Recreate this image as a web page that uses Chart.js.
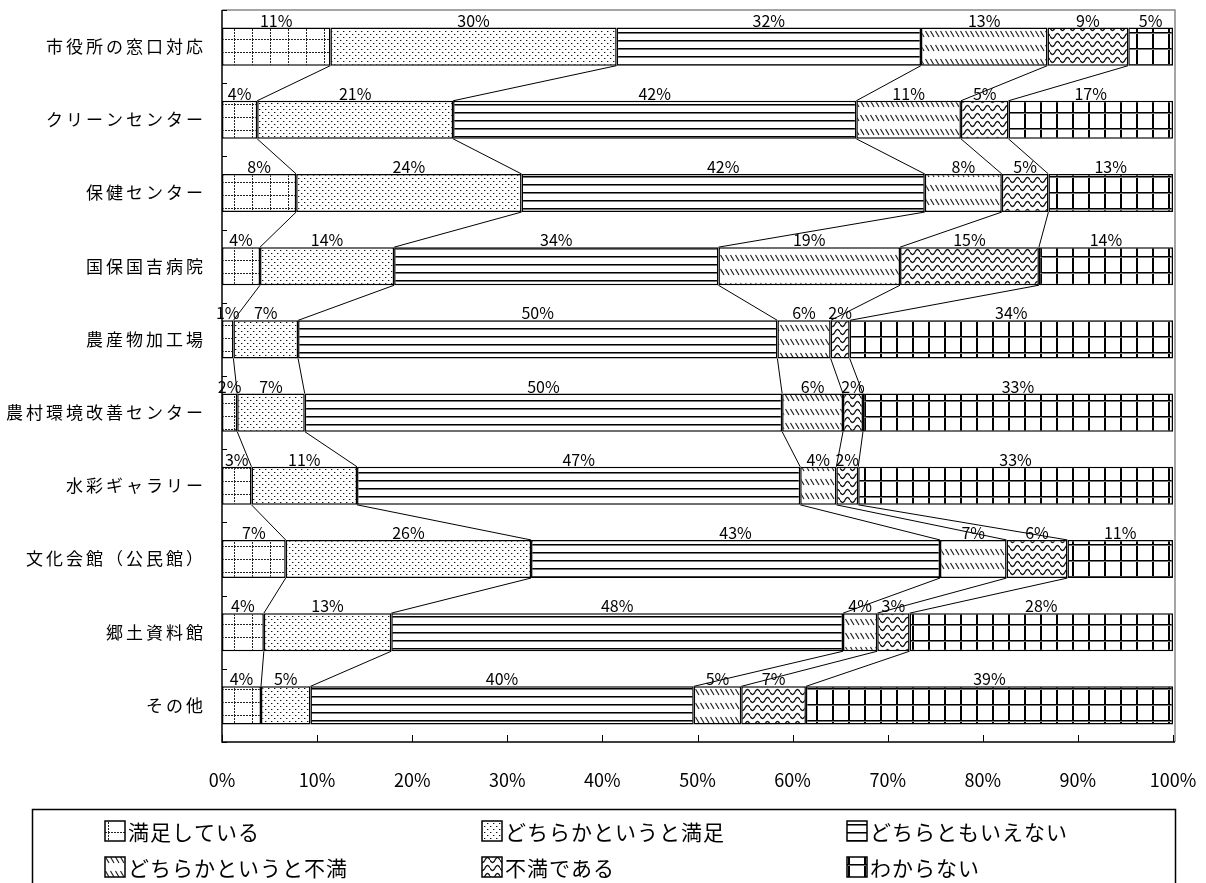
<!DOCTYPE html>
<html lang="ja">
<head>
<meta charset="UTF-8">
<script src="https://cdn.jsdelivr.net/npm/chart.js"></script>
<title>施設の満足度</title>
<style>
  html, body { margin: 0; padding: 0; background: #fff; }
  canvas { display: block; }
</style>
</head>
<body>
<canvas id="grafico" width="1206" height="883"></canvas>
<script>
// categories (top to bottom)
const categorias = ['市役所の窓口対応', 'クリーンセンター', '保健センター', '国保国吉病院', '農産物加工場',
  '農村環境改善センター', '水彩ギャラリー', '文化会館（公民館）', '郷土資料館', 'その他'];

// series (percent)
const satisfecho      = [11.4, 3.7, 7.8, 4.0, 1.2, 1.6, 3.1, 6.7, 4.4, 4.1];
const algoSatisfecho  = [30.1, 20.6, 23.7, 14.1, 6.8, 7.1, 11.1, 25.8, 13.4, 5.2];
const neutral         = [32.0, 42.4, 42.4, 34.1, 50.4, 50.2, 46.6, 43.0, 47.5, 40.3];
const algoInsatisfecho = [13.3, 11.0, 8.1, 19.1, 5.6, 6.4, 3.8, 7.0, 3.6, 5.0];
const insatisfecho    = [8.5, 5.0, 4.9, 14.6, 2.0, 2.1, 2.3, 6.4, 3.4, 6.8];
const noSabe          = [4.7, 17.3, 13.1, 14.1, 34.0, 32.6, 33.1, 11.1, 27.7, 38.6];

const nombresSeries = ['満足している', 'どちらかというと満足', 'どちらともいえない',
  'どちらかというと不満', '不満である', 'わからない'];
const ticksX = [0, 10, 20, 30, 40, 50, 60, 70, 80, 90, 100];

const FUENTE = "'Noto Sans CJK JP', 'Noto Sans', sans-serif";
const canvas = document.getElementById('grafico');
const ctx = canvas.getContext('2d');

function patron(w, h, dibujar) {
  const c = document.createElement('canvas');
  c.width = w; c.height = h;
  const g = c.getContext('2d');
  g.fillStyle = '#fff';
  g.fillRect(0, 0, w, h);
  dibujar(g, w, h);
  return ctx.createPattern(c, 'repeat');
}

// dotted grid
const pSatisfecho = patron(18, 13, (g) => {
  g.fillStyle = '#222';
  for (let i = 0; i < 13; i += 3) g.fillRect(0, i, 1, 2);
  for (let i = 0; i < 18; i += 3) g.fillRect(i, 0, 2, 1);
});
// dots
const pAlgoSatisfecho = patron(6, 6, (g) => {
  g.fillStyle = '#111';
  g.fillRect(1, 1, 1, 1);
  g.fillRect(4, 4, 1, 1);
  g.fillStyle = '#aaa';
  g.fillRect(2, 1, 1, 1);
  g.fillRect(5, 4, 1, 1);
});
// horizontal lines
const pNeutral = patron(4, 8, (g) => {
  g.fillStyle = '#000';
  g.fillRect(0, 0, 4, 1);
  g.fillStyle = '#777';
  g.fillRect(0, 1, 4, 1);
});
// short diagonal dashes
const pAlgoInsatisfecho = patron(5, 14, (g) => {
  g.strokeStyle = '#222';
  g.lineWidth = 1.2;
  g.beginPath();
  g.moveTo(0.5, 3);
  g.lineTo(4, 9);
  g.stroke();
});
// waves
const pInsatisfecho = patron(10, 8, (g) => {
  g.strokeStyle = '#111';
  g.lineWidth = 1.3;
  g.beginPath();
  for (let x = 0; x <= 10; x += 0.5) {
    const y = 4 + 2.6 * Math.sin(2 * Math.PI * x / 10);
    if (x === 0) g.moveTo(x, y); else g.lineTo(x, y);
  }
  g.stroke();
});
// big grid
const pNoSabe = patron(16, 16, (g) => {
  g.fillStyle = '#000';
  g.fillRect(0, 0, 2, 16);
  g.fillRect(0, 0, 16, 1);
  g.fillStyle = '#777';
  g.fillRect(0, 1, 16, 1);
});

const patrones = [pSatisfecho, pAlgoSatisfecho, pNeutral, pAlgoInsatisfecho, pInsatisfecho, pNoSabe];
const valores = [satisfecho, algoSatisfecho, neutral, algoInsatisfecho, insatisfecho, noSabe];

// connecting lines, labels, axes, legend
const extras = {
  id: 'extras',
  beforeDraw(chart) {
    const c = chart.ctx;
    c.save();
    c.fillStyle = '#fff';
    c.fillRect(0, 0, chart.width, chart.height);
    c.restore();
  },
  afterDatasetsDraw(chart) {
    const c = chart.ctx;
    const n = chart.data.labels.length;
    c.save();
    // series lines
    c.strokeStyle = '#000';
    c.lineWidth = 1;
    for (let d = 0; d < chart.data.datasets.length - 1; d++) {
      const barras = chart.getDatasetMeta(d).data;
      for (let i = 0; i < n - 1; i++) {
        const a = barras[i], b = barras[i + 1];
        c.beginPath();
        c.moveTo(a.x, a.y + a.height / 2);
        c.lineTo(b.x, b.y - b.height / 2);
        c.stroke();
      }
    }
    // value labels
    c.fillStyle = '#000';
    c.font = '16px ' + FUENTE;
    c.textAlign = 'center';
    c.textBaseline = 'alphabetic';
    chart.data.datasets.forEach((ds, d) => {
      chart.getDatasetMeta(d).data.forEach((bar, i) => {
        const cx = (bar.x + bar.base) / 2;
        c.fillText(Math.round(ds.data[i]) + '%', cx, bar.y - bar.height / 2 - 1);
      });
    });
    c.restore();
  },
  afterDraw(chart) {
    const c = chart.ctx;
    const a = chart.chartArea;
    const xs = chart.scales.x, ys = chart.scales.y;
    c.save();
    // category names
    c.fillStyle = '#000';
    c.font = '17px ' + FUENTE;
    c.letterSpacing = '3px';
    c.textAlign = 'right';
    c.textBaseline = 'middle';
    chart.data.labels.forEach((lab, i) => {
      c.fillText(lab, a.left - 16, ys.getPixelForValue(i));
    });
    c.letterSpacing = '0px';
    // plot frame (grey)
    c.strokeStyle = '#888';
    c.lineWidth = 1.5;
    c.beginPath();
    c.moveTo(a.left, a.top);
    c.lineTo(a.right + 2, a.top);
    c.lineTo(a.right + 2, a.bottom);
    c.stroke();
    // axes
    c.strokeStyle = '#000';
    c.lineWidth = 1.5;
    c.beginPath();
    c.moveTo(a.left, a.top);
    c.lineTo(a.left, a.bottom);
    c.lineTo(a.right + 2, a.bottom);
    c.stroke();
    c.lineWidth = 1;
    c.beginPath();
    ticksX.forEach(v => {
      const px = Math.round(xs.getPixelForValue(v)) + 0.5;
      c.moveTo(px, a.bottom);
      c.lineTo(px, a.bottom - 7);
    });
    const paso = ys.getPixelForValue(1) - ys.getPixelForValue(0);
    for (let i = 0; i <= chart.data.labels.length; i++) {
      const py = Math.round(ys.getPixelForValue(i) - paso / 2) + 0.5;
      c.moveTo(a.left, py);
      c.lineTo(a.left + 5, py);
    }
    c.stroke();

    // legend box
    c.lineWidth = 1.5;
    c.strokeRect(32.5, 809.5, 1143, 120);
    const colX = [105, 482, 847];
    const filaY = [831, 867];
    c.font = '21px ' + FUENTE;
    c.letterSpacing = '1px';
    c.textAlign = 'left';
    c.textBaseline = 'middle';
    nombresSeries.forEach((nom, i) => {
      const sx = colX[i % 3], cy = filaY[Math.floor(i / 3)];
      c.fillStyle = patrones[i];
      c.fillRect(sx, cy - 10, 20, 20);
      c.strokeStyle = '#000';
      c.lineWidth = 1.5;
      c.strokeRect(sx, cy - 10, 20, 20);
      c.fillStyle = '#000';
      c.fillText(nom, sx + 23, cy + 1);
    });
    c.restore();
  }
};

new Chart(canvas, {
  type: 'bar',
  data: {
    labels: categorias,
    datasets: nombresSeries.map((nom, i) => ({
      label: nom,
      data: valores[i],
      backgroundColor: patrones[i],
      borderColor: '#000',
      borderWidth: 1.5,
      borderSkipped: false,
      categoryPercentage: 1,
      barPercentage: 0.52
    }))
  },
  options: {
    indexAxis: 'y',
    responsive: false,
    animation: false,
    devicePixelRatio: 1,
    layout: { padding: { left: 0, top: 10, right: 33, bottom: 81 } },
    scales: {
      x: {
        stacked: true,
        min: 0,
        max: 100,
        afterFit: (s) => { s.height = 60; },
        afterBuildTicks: (s) => { s.ticks = ticksX.map(v => ({ value: v })); },
        grid: { display: false, drawTicks: true, tickLength: 27 },
        border: { display: false },
        ticks: {
          padding: 0,
          color: '#000',
          font: { family: FUENTE, size: 18 },
          maxRotation: 0,
          callback: (v) => v + '%'
        }
      },
      y: {
        stacked: true,
        afterFit: (s) => { s.width = 222; },
        grid: { display: false, drawTicks: false },
        border: { display: false },
        ticks: { display: false, padding: 0 }
      }
    },
    plugins: {
      legend: { display: false },
      tooltip: { enabled: false }
    }
  },
  plugins: [extras]
});
</script>
</body>
</html>
